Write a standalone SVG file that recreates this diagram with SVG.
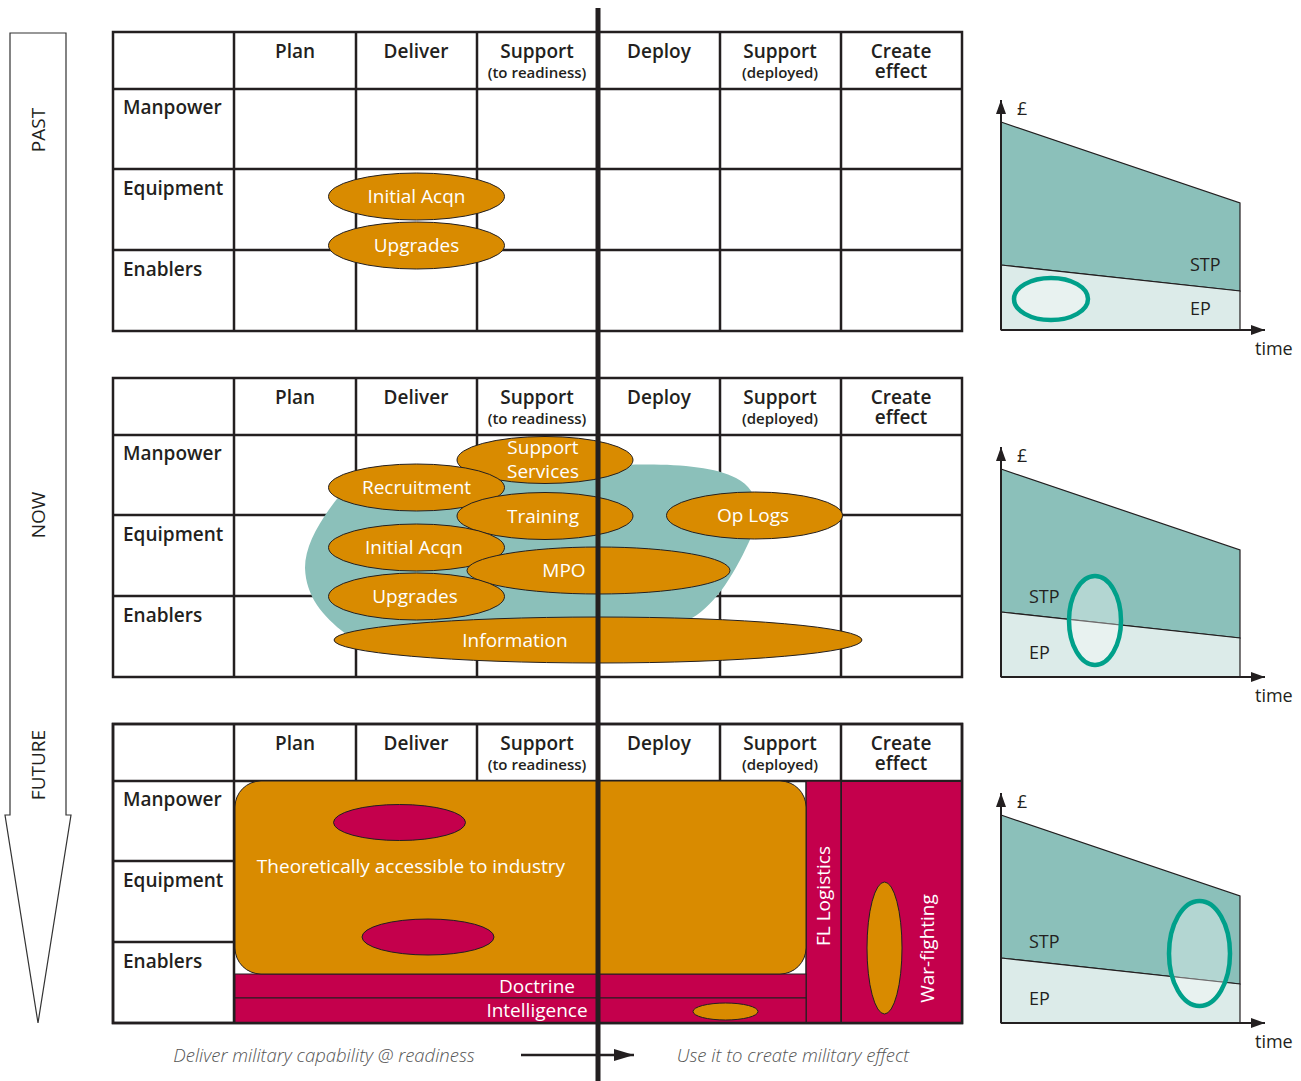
<svg xmlns="http://www.w3.org/2000/svg" xmlns:xlink="http://www.w3.org/1999/xlink" width="1301" height="1081" viewBox="0 0 1301 1081">
<defs>
<style>
.grid{fill:none;stroke:#231f20;stroke-width:2.5}
.hdr{font-family:"Open Sans","Noto Sans",sans-serif;font-weight:600;font-size:19px;fill:#231f20;text-anchor:middle}
.sub{font-size:15px}
.row{font-family:"Open Sans","Noto Sans",sans-serif;font-weight:600;font-size:19px;fill:#231f20}
.ov{fill:#d98b00;stroke:#231f20;stroke-width:1}
.mg{fill:#c4004c;stroke:#231f20;stroke-width:1}
.wt{font-family:"Open Sans","Noto Sans",sans-serif;font-size:19px;fill:#ffffff;text-anchor:middle}
.side{font-family:"Open Sans","Noto Sans",sans-serif;font-size:19px;fill:#231f20;text-anchor:middle}
.ch{font-family:"Open Sans","Noto Sans",sans-serif;font-size:18px;fill:#231f20}
.cap{font-family:"Open Sans","Noto Sans",sans-serif;font-style:italic;font-weight:300;font-size:18.5px;fill:#555;text-anchor:middle}
.ring{fill:#ffffff;fill-opacity:0.35;stroke:#00a08a;stroke-width:4.5}
.hi{fill:#8bc0ba;stroke:#231f20;stroke-width:1.2}
.lo{fill:#dcebe9;stroke:#231f20;stroke-width:1.2}
.axis{stroke:#231f20;stroke-width:2;fill:none}
</style>
<marker id="ah" viewBox="0 0 14 10" refX="14" refY="5" markerWidth="14" markerHeight="10" markerUnits="userSpaceOnUse" orient="auto"><path d="M0,0 L14,5 L0,10 z" fill="#231f20"/></marker>
<marker id="ahBig" viewBox="0 0 20 12" refX="20" refY="6" markerWidth="20" markerHeight="12" markerUnits="userSpaceOnUse" orient="auto"><path d="M0,0 L20,6 L0,12 z" fill="#231f20"/></marker>
<g id="table">
<rect x="113" y="32" width="849" height="299" fill="#ffffff" class="grid"/>
<path class="grid" d="M234,32V331M356,32V331M477,32V331M598,32V331M720,32V331M841,32V331M113,89H962M113,169H962M113,250H962"/>
<text class="hdr" x="295" y="58">Plan</text>
<text class="hdr" x="416" y="58">Deliver</text>
<text class="hdr" x="537" y="58">Support</text>
<text class="hdr sub" x="537" y="78">(to readiness)</text>
<text class="hdr" x="659" y="58">Deploy</text>
<text class="hdr" x="780" y="58">Support</text>
<text class="hdr sub" x="780" y="78">(deployed)</text>
<text class="hdr" x="901" y="58">Create</text>
<text class="hdr" x="901" y="78">effect</text>
<text class="row" x="123" y="114">Manpower</text>
<text class="row" x="123" y="195">Equipment</text>
<text class="row" x="123" y="276">Enablers</text>
</g>
<g id="chart">
<polygon class="hi" points="0,-208 239,-127 239,-39 0,-65"/>
<polygon class="lo" points="0,-65 239,-39 239,0 0,0"/>
<line class="axis" x1="0" y1="0" x2="0" y2="-230" marker-end="url(#ah)"/>
<line class="axis" x1="0" y1="0" x2="264" y2="0" marker-end="url(#ah)"/>
<text class="ch" x="16" y="-215" font-size="17">£</text>
<text class="ch" x="254" y="25">time</text>
</g>
</defs>

<g id="timeline-arrow">
<path d="M10,33 H66 V815 H71 L38,1023 L5,815 H10 Z" fill="#ffffff" stroke="#333333" stroke-width="1.2"/>
<text class="side" transform="translate(45,130) rotate(-90)">PAST</text>
<text class="side" transform="translate(45,515) rotate(-90)">NOW</text>
<text class="side" transform="translate(45,765) rotate(-90)">FUTURE</text>
</g>

<!-- PAST -->
<g id="table-past"><use xlink:href="#table"/></g>
<g id="past-initial-acqn"><ellipse class="ov" cx="416.5" cy="196.5" rx="88" ry="23.5"/><text class="wt" x="416.5" y="203">Initial Acqn</text></g>
<g id="past-upgrades"><ellipse class="ov" cx="416.5" cy="245.5" rx="88" ry="23.5"/><text class="wt" x="416.5" y="252">Upgrades</text></g>

<!-- NOW -->
<g id="table-now"><use xlink:href="#table" transform="translate(0,346)"/></g>
<g id="now-blob"><path d="M340,495 C320,520 305,545 305,568 C306,596 322,616 346,634 L692,618 C716,604 736,572 752,535 C762,508 756,488 736,478 C708,463 650,463 600,466 L470,472 Z" fill="#8bc0ba"/></g>
<g id="now-support-services"><ellipse class="ov" cx="545" cy="460" rx="88" ry="23.5"/><text class="wt" x="543" y="454" font-size="17">Support</text><text class="wt" x="543" y="478" font-size="17">Services</text></g>
<g id="now-recruitment"><ellipse class="ov" cx="416.5" cy="487.5" rx="88" ry="23.5"/><text class="wt" x="416.5" y="494">Recruitment</text></g>
<g id="now-training"><ellipse class="ov" cx="545" cy="516" rx="88" ry="23.5"/><text class="wt" x="543" y="522.5">Training</text></g>
<g id="now-initial-acqn"><ellipse class="ov" cx="416.5" cy="547.5" rx="88" ry="23.5"/><text class="wt" x="414" y="554">Initial Acqn</text></g>
<g id="now-mpo"><ellipse class="ov" cx="598.5" cy="570.5" rx="131.5" ry="23.5"/><text class="wt" x="564" y="577">MPO</text></g>
<g id="now-upgrades"><ellipse class="ov" cx="416.5" cy="596.5" rx="88" ry="23.5"/><text class="wt" x="415" y="603">Upgrades</text></g>
<g id="now-information"><ellipse class="ov" cx="598" cy="640" rx="264" ry="23"/><text class="wt" x="515" y="647">Information</text></g>
<g id="now-op-logs"><ellipse class="ov" cx="754.5" cy="515.5" rx="88" ry="23.5"/><text class="wt" x="753" y="522">Op Logs</text></g>

<!-- FUTURE -->
<g id="table-future"><use xlink:href="#table" transform="translate(0,692)"/></g>
<g id="future-war-fighting">
<rect x="841" y="781" width="121" height="242" fill="#c4004c" stroke="#231f20" stroke-width="2"/>
<ellipse class="ov" cx="884.5" cy="948" rx="17.5" ry="66"/>
<text class="wt" font-size="19.5" transform="translate(934,948.5) rotate(-90)">War-fighting</text>
</g>
<g id="future-fl-logistics">
<rect x="806" y="781" width="35" height="242" fill="#c4004c" stroke="#231f20" stroke-width="1.5"/>
<text class="wt" font-size="19.5" transform="translate(830,896) rotate(-90)">FL Logistics</text>
</g>
<g id="future-doctrine"><rect class="mg" x="235" y="974" width="571" height="24" stroke-width="1.5"/><text class="wt" x="537" y="993">Doctrine</text></g>
<g id="future-intelligence"><rect class="mg" x="235" y="998" width="571" height="25" stroke-width="1.5"/><text class="wt" x="537" y="1017">Intelligence</text><ellipse class="ov" cx="725.5" cy="1011.5" rx="32.5" ry="8.5"/></g>
<g id="future-industry">
<rect class="ov" x="235" y="781" width="571" height="193" rx="26" ry="26"/>
<ellipse class="mg" cx="399.5" cy="822.5" rx="66" ry="18"/>
<ellipse class="mg" cx="428" cy="937" rx="66" ry="18"/>
<text class="wt" x="411" y="873" font-size="18.5">Theoretically accessible to industry</text>
</g>
<rect x="113" y="724" width="849" height="299" class="grid"/>

<!-- charts -->
<g id="chart-past"><use xlink:href="#chart" transform="translate(1001,330)"/>
<text class="ch" x="1190" y="271">STP</text><text class="ch" x="1190" y="315">EP</text>
<ellipse class="ring" cx="1051" cy="299" rx="37" ry="21"/></g>
<g id="chart-now"><use xlink:href="#chart" transform="translate(1001,677)"/>
<text class="ch" x="1029" y="603">STP</text><text class="ch" x="1029" y="659">EP</text>
<ellipse class="ring" cx="1095" cy="620.5" rx="26" ry="44.5"/></g>
<g id="chart-future"><use xlink:href="#chart" transform="translate(1001,1023)"/>
<text class="ch" x="1029" y="948">STP</text><text class="ch" x="1029" y="1005">EP</text>
<ellipse class="ring" cx="1199.5" cy="953.5" rx="30.5" ry="52.5"/></g>

<g id="captions">
<text class="cap" x="324" y="1062">Deliver military capability @ readiness</text>
<text class="cap" x="793" y="1062">Use it to create military effect</text>
</g>
<g id="connectors">
<line x1="521" y1="1055" x2="634" y2="1055" stroke="#231f20" stroke-width="2.5" marker-end="url(#ahBig)"/>
<line x1="598" y1="8" x2="598" y2="1081" stroke="#231f20" stroke-width="5"/>
</g>
</svg>
